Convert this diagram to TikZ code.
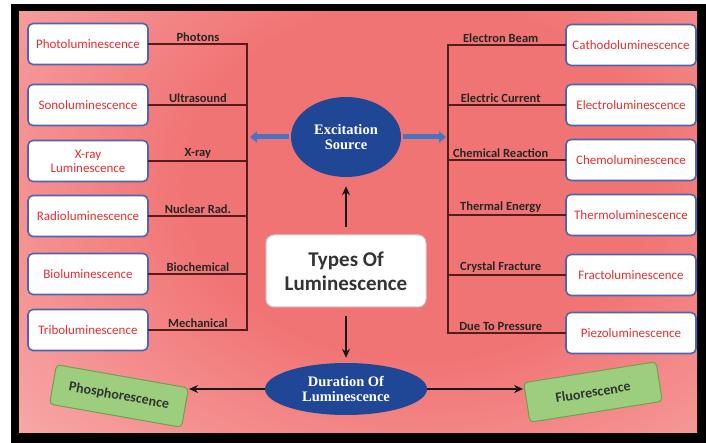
\documentclass[tikz,border=0pt]{standalone}
\usepackage{fontspec}
\setmainfont{Carlito}
\newfontfamily\ovalfont{Liberation Serif}
\usetikzlibrary{arrows.meta,shapes.geometric,positioning}

\definecolor{pinkcore}{RGB}{241,116,116}
\definecolor{pinkedge}{RGB}{251,194,194}
\definecolor{boxblue}{RGB}{80,100,180}
\definecolor{kindred}{RGB}{235,45,45}
\definecolor{wirebrown}{RGB}{85,28,28}
\definecolor{ovalblue}{RGB}{32,70,150}
\definecolor{arrowblue}{RGB}{72,116,196}
\definecolor{leafgreen}{RGB}{156,206,126}
\definecolor{leafline}{RGB}{112,160,82}
\pgfdeclareradialshading{pinkglow}{\pgfpoint{0bp}{0bp}}{color(0bp)=(pinkcore);
  color(14bp)=(pinkcore); color(40bp)=(pinkedge); color(50bp)=(pinkedge)}

\begin{document}
\begin{tikzpicture}[x=1pt,y=-1pt,font=\fontsize{13}{14}\selectfont,
  kindbox/.style={draw=boxblue, line width=1.6pt, fill=white, rounded corners=5pt,
    minimum height=41pt, text=kindred, align=center, inner sep=2pt},
  viatext/.style={above, inner sep=1.5pt, text=black!85,
    font=\bfseries\fontsize{12.5}{13}\selectfont},
  wire/.style={draw=wirebrown, line width=1.6pt, line cap=rect},
  oval/.style={ellipse, fill=ovalblue, text=white, align=center, inner sep=0pt,
    font=\ovalfont\bfseries\fontsize{14.5}{15.5}\selectfont},
  leaf/.style={draw=leafline, line width=1pt, fill=leafgreen, rounded corners=4pt,
    minimum width=134pt, minimum height=40pt, text=black!80,
    font=\bfseries\fontsize{14}{15}\selectfont},
  fatarrow/.style={draw=arrowblue, line width=5pt, -{Triangle[length=7pt,width=11pt]}},
  thinarrow/.style={draw=black!90, line width=1.8pt, -{Stealth[length=9pt,width=8pt]}}]

  \useasboundingbox (0,0) rectangle (706,443);
  \fill[black] (11,4) rectangle (706,443);
  \begin{scope}
    \clip (19,12) rectangle (697,432);
    \shade[shading=pinkglow] (0,-140) rectangle (840,500);
  \end{scope}

  \foreach \n/\y/\kind in {1/44/Photoluminescence, 2/105/Sonoluminescence,
      3/161/{X-ray\\Luminescence}, 4/216/Radioluminescence,
      5/274/Bioluminescence, 6/330/Triboluminescence}
    \node[kindbox, minimum width=120pt] (left\n) at (88,\y) {\kind};

  \foreach \n/\y/\kind in {1/45/Cathodoluminescence, 2/105/Electroluminescence,
      3/160/Chemoluminescence, 4/215/Thermoluminescence,
      5/275/Fractoluminescence, 6/333/Piezoluminescence}
    \node[kindbox, minimum width=130pt] (right\n) at (631,\y) {\kind};

  \coordinate (lbus) at (247,0);
  \coordinate (rbus) at (448,0);

  \foreach \n/\via in {1/Photons, 2/Ultrasound, 3/X-ray, 4/Nuclear Rad.,
      5/Biochemical, 6/Mechanical}
    \draw[wire] (left\n.east) -- node[viatext] {\via} (left\n.east -| lbus);
  \draw[wire] (left1.east -| lbus) -- (left6.east -| lbus);

  \foreach \n/\via in {1/Electron Beam, 2/Electric Current, 3/Chemical Reaction,
      4/Thermal Energy, 5/Crystal Fracture, 6/Due To Pressure}
    \draw[wire] (right\n.west) -- node[viatext, pos=0.55] {\via} (right\n.west -| rbus);
  \draw[wire] (right1.west -| rbus) -- (right6.west -| rbus);

  \node[oval, minimum width=110pt, minimum height=80pt] (excite) at (346,137)
    {Excitation\\Source};
  \node[fill=white, draw=black!20, line width=1pt, rounded corners=8pt,
    minimum width=160pt, minimum height=72pt, align=center, text=black!80,
    font=\bfseries\fontsize{21}{24}\selectfont] (types) at (346,271)
    {Types Of\\Luminescence};
  \node[oval, minimum width=162pt, minimum height=52pt] (duration) at (346,389)
    {Duration Of\\Luminescence};

  \node[leaf, rotate=-10] (phos) at (119,396) {Phosphorescence};
  \node[leaf, rotate=9] (fluor) at (593,392) {Fluorescence};

  \coordinate (lhead) at (250,137);
  \coordinate (rhead) at (446,137);
  \draw[fatarrow, shorten <=2pt] (excite.west) -- (lhead);
  \draw[fatarrow, shorten <=2pt] (excite.east) -- (rhead);

  \draw[thinarrow, shorten <=7pt, shorten >=9pt] (types.north) -- (excite.south);
  \draw[thinarrow, shorten <=8pt, shorten >=5pt] (types.south) -- (duration.north);
  \draw[thinarrow] (duration.west) -- (duration.west -| phos.north east);
  \draw[thinarrow] (duration.east) -- (duration.east -| fluor.north west);

\end{tikzpicture}
\end{document}
